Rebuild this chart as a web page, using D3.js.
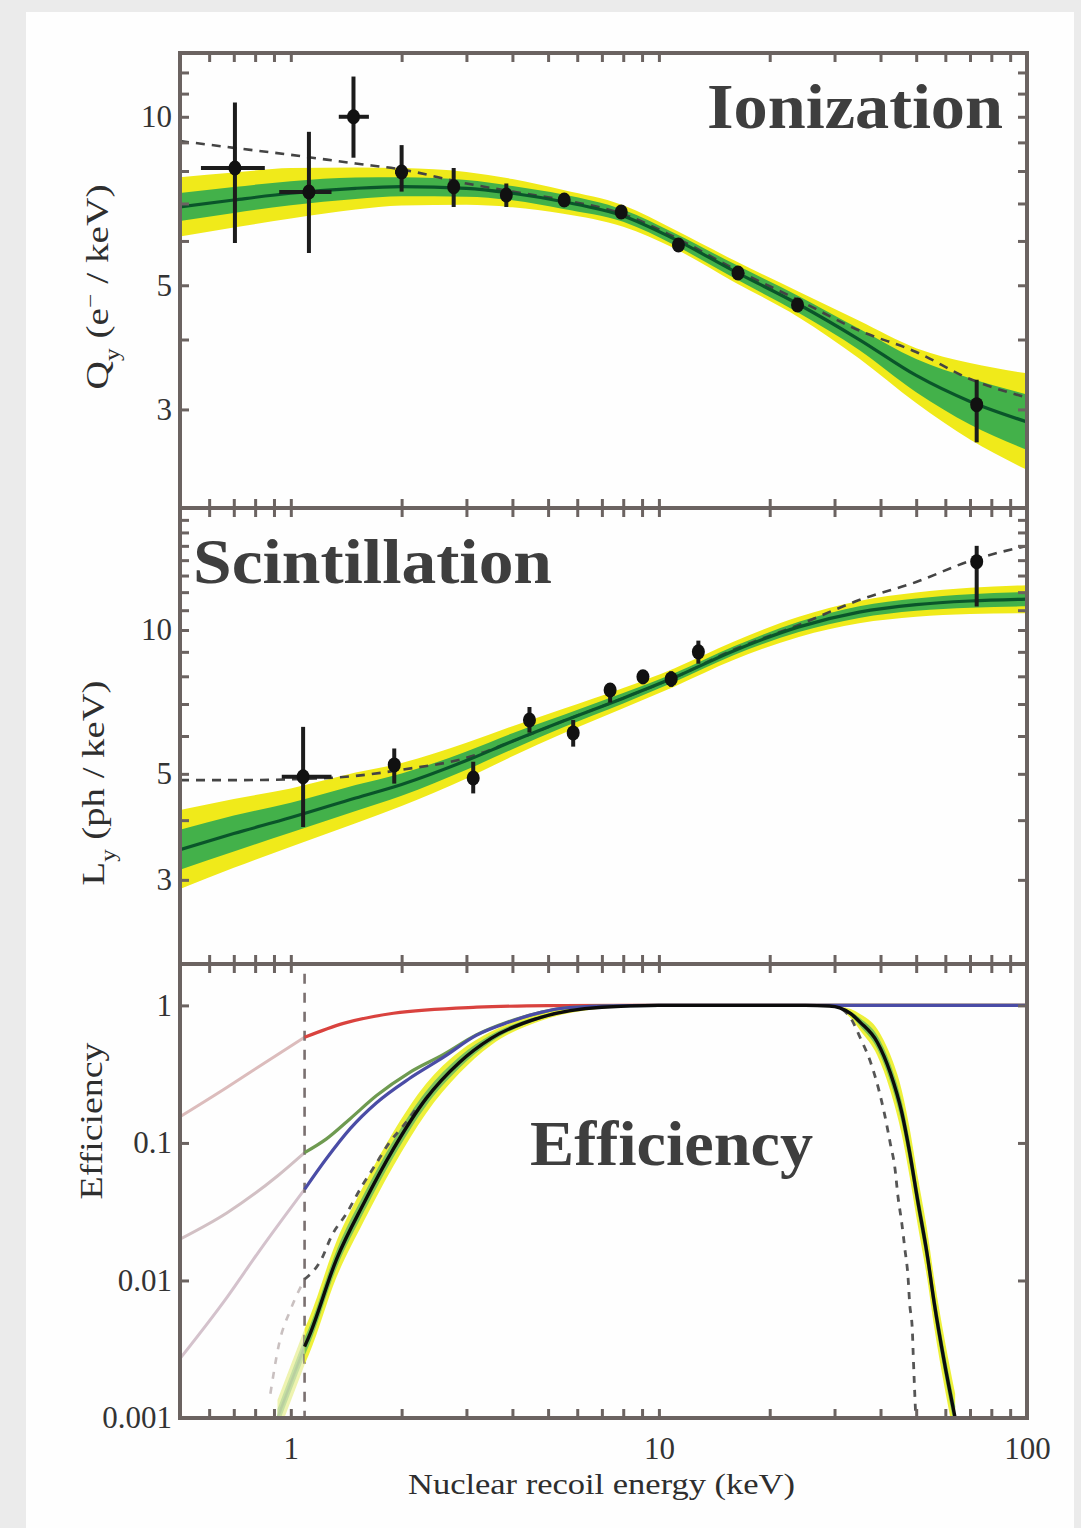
<!DOCTYPE html>
<html>
<head>
<meta charset="utf-8">
<script src="https://cdn.jsdelivr.net/npm/d3@7"></script>
<style>
  html, body { margin: 0; padding: 0; background: #ffffff; }
  svg { display: block; }
  text { font-family: "Liberation Serif", "Times New Roman", serif; }
</style>
</head>
<body>
<svg id="chart" width="1081" height="1528"></svg>
<script>
// ---------- data ----------
// Energy grid for fitted curves (keV)
const fitE = [0.5, 0.7, 1, 1.5, 2, 3, 4, 5.5, 8, 11, 16, 24, 35, 50, 70, 100];

// Ionization yield Qy (e- / keV)
const qyFit   = [6.9, 7.1, 7.3, 7.45, 7.5, 7.45, 7.3, 7.05, 6.65, 6.05, 5.3, 4.62, 4.0, 3.45, 3.1, 2.85];
const qyHi1   = [7.31, 7.49, 7.67, 7.79, 7.80, 7.71, 7.52, 7.26, 6.82, 6.20, 5.46, 4.78, 4.18, 3.69, 3.41, 3.19];
const qyLo1   = [6.51, 6.73, 6.95, 7.13, 7.21, 7.20, 7.09, 6.84, 6.49, 5.90, 5.15, 4.46, 3.83, 3.22, 2.82, 2.54];
const qyHi2   = [7.80, 7.95, 8.10, 8.12, 8.10, 7.97, 7.74, 7.40, 6.95, 6.29, 5.54, 4.87, 4.32, 3.86, 3.63, 3.48];
const qyLo2   = [6.11, 6.34, 6.58, 6.83, 6.94, 6.96, 6.89, 6.71, 6.36, 5.82, 5.07, 4.38, 3.70, 3.08, 2.65, 2.34];
const qyDash  = [9.05, 8.8, 8.55, 8.25, 8.05, 7.6, 7.35, 7.1, 6.7, 6.1, 5.35, 4.7, 4.15, 3.8, 3.4, 3.15];

// Qy measurements: energy, value, x-range, y-range
const qyE    = [0.705, 1.12, 1.48, 2.0, 2.77, 3.85, 5.53, 7.9, 11.3, 16.4, 23.8, 73];
const qyVal  = [8.1, 7.34, 10.0, 7.97, 7.5, 7.25, 7.1, 6.76, 5.9, 5.26, 4.61, 3.06];
const qyELo  = [0.57, 0.93, 1.35, 1.92, 2.70, 3.75, 5.45, 7.80, 11.15, 16.2, 23.5, 72];
const qyEHi  = [0.85, 1.29, 1.63, 2.08, 2.85, 3.95, 5.62, 8.0, 11.45, 16.6, 24.1, 74];
const qyVLo  = [5.95, 5.71, 8.45, 7.35, 6.9, 6.9, 6.95, 6.6, 5.78, 5.15, 4.5, 2.62];
const qyVHi  = [10.6, 9.4, 11.8, 8.9, 8.1, 7.6, 7.25, 6.92, 6.02, 5.37, 4.72, 3.39];

// Scintillation yield Ly (ph / keV)
const lyFit   = [3.47, 3.75, 4.05, 4.45, 4.75, 5.33, 5.85, 6.45, 7.2, 7.95, 9.05, 10.15, 10.9, 11.3, 11.5, 11.6];
const lyHi1   = [3.82, 4.09, 4.35, 4.74, 5.01, 5.57, 6.08, 6.64, 7.38, 8.12, 9.25, 10.40, 11.21, 11.64, 11.88, 12.01];
const lyLo1   = [3.15, 3.44, 3.77, 4.18, 4.50, 5.10, 5.63, 6.26, 7.02, 7.78, 8.86, 9.90, 10.60, 10.97, 11.13, 11.21];
const lyHi2   = [4.20, 4.43, 4.66, 5.03, 5.27, 5.81, 6.29, 6.84, 7.56, 8.31, 9.46, 10.66, 11.50, 11.98, 12.25, 12.41];
const lyLo2   = [2.87, 3.18, 3.52, 3.94, 4.28, 4.89, 5.44, 6.08, 6.86, 7.61, 8.66, 9.67, 10.33, 10.66, 10.80, 10.84];
const lyDash  = [4.85, 4.85, 4.87, 4.95, 5.1, 5.4, 5.85, 6.45, 7.2, 7.95, 9.1, 10.25, 11.55, 12.6, 13.95, 15.0];

const lyE    = [1.08, 1.91, 3.13, 4.45, 5.85, 7.37, 9.05, 10.8, 12.8, 73];
const lyVal  = [4.93, 5.22, 4.9, 6.48, 6.09, 7.49, 7.98, 7.9, 9.0, 13.9];
const lyELo  = [0.945, 1.85, 3.05, 4.35, 5.75, 7.25, 8.9, 10.6, 12.6, 72];
const lyEHi  = [1.29, 1.97, 3.2, 4.55, 5.95, 7.5, 9.2, 11.0, 13.0, 74];
const lyVLo  = [3.87, 4.77, 4.55, 6.1, 5.7, 7.05, 7.7, 7.6, 8.5, 11.2];
const lyVHi  = [6.27, 5.65, 5.3, 6.9, 6.48, 7.7, 8.2, 8.2, 9.5, 15.0];

// Detection efficiencies
const thresholdE = 1.09;
const effRedE   = [0.5, 0.67, 0.82, 1.09, 1.39, 1.9, 3.2, 5, 8, 100];
const effRed    = [0.155, 0.253, 0.36, 0.586, 0.74, 0.877, 0.97, 0.995, 1, 1];
const effGreenE = [0.5, 0.67, 0.92, 1.09, 1.25, 1.45, 1.71, 2.1, 2.6, 3.19, 3.9, 4.78, 5.4, 7, 10, 100];
const effGreen  = [0.020, 0.031, 0.0575, 0.085, 0.107, 0.150, 0.221, 0.325, 0.44, 0.61, 0.76, 0.89, 0.95, 0.99, 1, 1];
const effBlueE  = [0.5, 0.67, 0.82, 1.09, 1.25, 1.45, 1.71, 2.1, 2.6, 3.19, 3.9, 4.78, 5.4, 7, 10, 100];
const effBlue   = [0.0027, 0.0075, 0.0163, 0.046, 0.077, 0.127, 0.196, 0.294, 0.42, 0.605, 0.753, 0.89, 0.95, 0.99, 1, 1];

// Total efficiency with its 1-sigma / 2-sigma bounds
const effTotalE = [0.92, 1.0, 1.09, 1.12, 1.33, 1.58, 1.9, 2.33, 2.87, 3.5, 4.78, 7, 10, 20, 25, 29, 31, 33.2, 35.3, 39.2, 42.5, 45.7, 48, 50.6, 53.5, 56, 59.7, 63.8];
const effTotal  = [0.001, 0.0018, 0.0033, 0.0039, 0.0142, 0.0366, 0.0906, 0.21, 0.385, 0.576, 0.82, 0.97, 1.0, 1.0, 1.0, 0.99, 0.96, 0.87, 0.75, 0.54, 0.325, 0.166, 0.085, 0.0366, 0.0157, 0.0068, 0.0025, 0.001];
const effHi1    = [0.00116, 0.00209, 0.00383, 0.00452, 0.01647, 0.04246, 0.1042, 0.2373, 0.4235, 0.6106, 0.8446, 0.9797, 1.0, 1.0, 1.0, 0.99, 0.9696, 0.9048, 0.8025, 0.6048, 0.377, 0.1992, 0.1037, 0.04465, 0.01915, 0.0083, 0.00305, 0.00122];
const effLo1    = [0.00086, 0.00155, 0.00284, 0.00336, 0.01224, 0.03155, 0.0788, 0.1858, 0.35, 0.5434, 0.7961, 0.9604, 1.0, 1.0, 1.0, 0.99, 0.9505, 0.8365, 0.7009, 0.4821, 0.2802, 0.1383, 0.0697, 0.03, 0.01287, 0.00557, 0.00205, 0.00082];
const effHi2    = [0.00135, 0.00243, 0.00446, 0.00527, 0.0192, 0.0494, 0.1205, 0.269, 0.462, 0.645, 0.869, 0.989, 1.0, 1.0, 1.0, 0.99, 0.979, 0.94, 0.8625, 0.675, 0.439, 0.241, 0.1275, 0.0549, 0.0236, 0.0102, 0.00375, 0.0015];
const effLo2    = [0.00074, 0.00133, 0.00244, 0.00289, 0.0105, 0.0271, 0.0681, 0.164, 0.321, 0.514, 0.774, 0.951, 1.0, 1.0, 1.0, 0.99, 0.941, 0.806, 0.652, 0.432, 0.241, 0.1145, 0.0567, 0.0244, 0.0105, 0.00453, 0.00167, 0.00067];

const effDashLoE = [0.88, 0.93, 1.0, 1.09, 1.21, 1.29, 1.42, 1.56, 1.69, 1.85, 2.02, 2.2];
const effDashLo  = [0.0015, 0.0035, 0.0062, 0.0102, 0.0142, 0.021, 0.031, 0.0486, 0.068, 0.1, 0.133, 0.18];
const effDashHiE = [29, 31, 33.2, 35.3, 37.6, 39.5, 41.1, 42.5, 43.8, 44.6, 45.7, 46.6, 47.5, 48, 48.8, 49.1, 49.8];
const effDashHi  = [1.0, 0.96, 0.807, 0.575, 0.385, 0.248, 0.158, 0.1, 0.0647, 0.0411, 0.026, 0.0168, 0.0107, 0.0068, 0.0044, 0.0028, 0.0011];

// Ticks and labels
const xTickValues = [0.6, 0.7, 0.8, 0.9, 1, 2, 3, 4, 5, 6, 7, 8, 9, 10, 20, 30, 40, 50, 60, 70, 80, 90];
const xLabelValues = [1, 10, 100];
const qyTicks = [3, 4, 5, 6, 7, 8, 9, 10, 11, 12];
const lyTicks = [3, 4, 5, 6, 7, 8, 9, 10, 11, 12, 13, 14, 15, 16, 17];
const yLabelValues = [3, 5, 10];
const effTicks = [0.001, 0.01, 0.1, 1];
const effTickLabels = ["0.001", "0.01", "0.1", "1"];

// ---------- layout ----------
const W = 1081, H = 1528;
const left = 180, right = 1027;
const panels = { top: [53, 508], mid: [508, 964], bot: [964, 1418] };

const svg = d3.select("#chart");
svg.append("rect").attr("width", W).attr("height", H).attr("fill", "#ebebeb");
svg.append("rect").attr("x", 26).attr("y", 12).attr("width", 1048).attr("height", H - 12).attr("fill", "#fefefe");

const x = d3.scaleLog().domain([0.5, 100]).range([left, right]);
const yTop = d3.scaleLog().domain([2, 13]).range([panels.top[1], panels.top[0]]);
const yMid = d3.scaleLog().domain([2, 18]).range([panels.mid[1], panels.mid[0]]);
const yBot = d3.scaleLog().domain([0.001, 2]).range([panels.bot[1], panels.bot[0]]);

const FRAME = "#6b6361";

function clipFor(id, y0, y1) {
  svg.append("clipPath").attr("id", id)
    .append("rect").attr("x", left).attr("y", y0).attr("width", right - left).attr("height", y1 - y0);
  return svg.append("g").attr("clip-path", `url(#${id})`);
}

function zipRows(E, cols) {
  return E.map((e, i) => { const r = { E: e }; for (const k in cols) r[k] = cols[k][i]; return r; });
}

// yield panel: bands, dashed model, fit line, measurements
function yieldPanel(id, y, bounds, fit, hi1, lo1, hi2, lo2, dash, pts) {
  const g = clipFor(id, bounds[0], bounds[1]);
  const rows = zipRows(fitE, { fit, hi1, lo1, hi2, lo2, dash });
  const area = (a, b) => d3.area().x(d => x(d.E)).y0(d => y(d[a])).y1(d => y(d[b])).curve(d3.curveMonotoneX);
  const line = k => d3.line().x(d => x(d.E)).y(d => y(d[k])).curve(d3.curveMonotoneX);
  g.append("path").datum(rows).attr("d", area("lo2", "hi2")).attr("fill", "#f0ea1a");
  g.append("path").datum(rows).attr("d", area("lo1", "hi1")).attr("fill", "#43b14a");
  g.append("path").datum(rows).attr("d", line("dash")).attr("fill", "none")
    .attr("stroke", "#444").attr("stroke-width", 2.6).attr("stroke-dasharray", "9,7");
  g.append("path").datum(rows).attr("d", line("fit")).attr("fill", "none")
    .attr("stroke", "#0a552a").attr("stroke-width", 3.2);

  const pg = g.append("g");
  pts.E.forEach((e, i) => {
    pg.append("line").attr("x1", x(e)).attr("x2", x(e)).attr("y1", y(pts.vlo[i])).attr("y2", y(pts.vhi[i]))
      .attr("stroke", "#1c1c1c").attr("stroke-width", 4);
    pg.append("line").attr("x1", x(pts.elo[i])).attr("x2", x(pts.ehi[i])).attr("y1", y(pts.v[i])).attr("y2", y(pts.v[i]))
      .attr("stroke", "#1c1c1c").attr("stroke-width", 4);
    pg.append("ellipse").attr("cx", x(e)).attr("cy", y(pts.v[i])).attr("rx", 6.5).attr("ry", 7.5).attr("fill", "#111");
  });
}

yieldPanel("clipTop", yTop, panels.top, qyFit, qyHi1, qyLo1, qyHi2, qyLo2, qyDash,
  { E: qyE, v: qyVal, elo: qyELo, ehi: qyEHi, vlo: qyVLo, vhi: qyVHi });
yieldPanel("clipMid", yMid, panels.mid, lyFit, lyHi1, lyLo1, lyHi2, lyLo2, lyDash,
  { E: lyE, v: lyVal, elo: lyELo, ehi: lyEHi, vlo: lyVLo, vhi: lyVHi });

// ---------- efficiency panel ----------
{
  const g = clipFor("clipBot", panels.bot[0], panels.bot[1]);
  const pairs = (E, V) => E.map((e, i) => ({ E: e, v: V[i] }));
  const ln = d3.line().x(d => x(d.E)).y(d => yBot(d.v)).curve(d3.curveMonotoneX);
  const band = (a, b) => d3.area().x(d => x(d.E)).y0(d => yBot(d[a])).y1(d => yBot(d[b])).curve(d3.curveMonotoneX);
  const below = arr => arr.filter(d => d.E <= thresholdE);
  const above = arr => arr.filter(d => d.E >= thresholdE);

  const red = pairs(effRedE, effRed), green = pairs(effGreenE, effGreen), blue = pairs(effBlueE, effBlue);
  const total = pairs(effTotalE, effTotal);
  const totalBand = zipRows(effTotalE, { hi1: effHi1, lo1: effLo1, hi2: effHi2, lo2: effLo2 });
  const dashLo = pairs(effDashLoE, effDashLo), dashHi = pairs(effDashHiE, effDashHi);

  // sub-threshold extrapolations (faded)
  [[red, "#dcbcbc"], [green, "#d2c0c4"], [blue, "#d4c2cc"]].forEach(([d, c]) => {
    g.append("path").datum(below(d)).attr("d", ln).attr("fill", "none").attr("stroke", c).attr("stroke-width", 3);
  });
  g.append("path").datum(below(totalBand)).attr("d", band("lo2", "hi2")).attr("fill", "#eef3b0");
  g.append("path").datum(below(totalBand)).attr("d", band("lo1", "hi1")).attr("fill", "#c6dfa2");
  g.append("path").datum(below(total)).attr("d", ln).attr("fill", "none")
    .attr("stroke", "#b9cfa0").attr("stroke-width", 2.5);
  g.append("path").datum(below(dashLo)).attr("d", ln).attr("fill", "none")
    .attr("stroke", "#c9c0c0").attr("stroke-width", 2.6).attr("stroke-dasharray", "7,8");

  // threshold marker
  g.append("line").attr("x1", x(thresholdE)).attr("x2", x(thresholdE))
    .attr("y1", yBot(1.7)).attr("y2", yBot(0.001))
    .attr("stroke", "#7a7070").attr("stroke-width", 2.6).attr("stroke-dasharray", "10,9");

  // total efficiency band
  g.append("path").datum(above(totalBand)).attr("d", band("lo2", "hi2")).attr("fill", "#eef03a");
  g.append("path").datum(above(totalBand)).attr("d", band("lo1", "hi1")).attr("fill", "#7cc45a");

  // dashed alternative curves
  [above(dashLo), dashHi].forEach(d => {
    g.append("path").datum(d).attr("d", ln).attr("fill", "none")
      .attr("stroke", "#555").attr("stroke-width", 2.8).attr("stroke-dasharray", "7,7");
  });

  g.append("path").datum(above(red)).attr("d", ln).attr("fill", "none").attr("stroke", "#d9423e").attr("stroke-width", 3.2);
  g.append("path").datum(above(green)).attr("d", ln).attr("fill", "none").attr("stroke", "#6e9a50").attr("stroke-width", 3.2);
  g.append("path").datum(above(blue)).attr("d", ln).attr("fill", "none").attr("stroke", "#4a4ca6").attr("stroke-width", 3.2);
  g.append("path").datum(above(total)).attr("d", ln).attr("fill", "none").attr("stroke", "#0c0c0c").attr("stroke-width", 3.4);
}

// ---------- frames and axes ----------
function styleAxis(sel) {
  sel.select(".domain").remove();
  sel.selectAll(".tick line").attr("stroke", FRAME).attr("stroke-width", 3);
  sel.selectAll(".tick text").attr("fill", "#333").attr("font-size", 31)
    .attr("font-family", "'Liberation Serif', serif");
}

function frameAxes(y, bounds, yTicks, yLabelVals, yFmt) {
  const [y0, y1] = bounds;
  svg.append("g").attr("transform", `translate(0,${y0})`)
    .call(d3.axisTop(x).tickValues(xTickValues).tickSizeInner(-9).tickSizeOuter(0).tickFormat(""))
    .call(styleAxis);
  svg.append("g").attr("transform", `translate(0,${y1})`)
    .call(d3.axisBottom(x).tickValues(xTickValues).tickSizeInner(-9).tickSizeOuter(0).tickFormat(""))
    .call(styleAxis);
  svg.append("g").attr("transform", `translate(${left},0)`)
    .call(d3.axisLeft(y).tickValues(yTicks).tickSizeInner(-9).tickSizeOuter(0).tickPadding(8)
      .tickFormat(yFmt || (d => yLabelVals.includes(d) ? d : "")))
    .call(styleAxis);
  svg.append("g").attr("transform", `translate(${right},0)`)
    .call(d3.axisRight(y).tickValues(yTicks).tickSizeInner(-9).tickSizeOuter(0).tickFormat(""))
    .call(styleAxis);
  svg.append("rect").attr("x", left).attr("y", y0).attr("width", right - left).attr("height", y1 - y0)
    .attr("fill", "none").attr("stroke", FRAME).attr("stroke-width", 4);
}

frameAxes(yTop, panels.top, qyTicks, yLabelValues);
frameAxes(yMid, panels.mid, lyTicks, yLabelValues);
frameAxes(yBot, panels.bot, effTicks, null, d => effTickLabels[effTicks.indexOf(d)]);

// x labels under the efficiency panel
svg.append("g").attr("transform", `translate(0,${panels.bot[1]})`)
  .call(d3.axisBottom(x).tickValues(xLabelValues).tickSize(0).tickPadding(19).tickFormat(d3.format("d")))
  .call(styleAxis);

// ---------- axis titles ----------
function yTitle(cx, cy, len, build) {
  const t = svg.append("text").attr("transform", `translate(${cx},${cy}) rotate(-90)`)
    .attr("text-anchor", "middle").attr("font-size", 31).attr("fill", "#2e2e2e")
    .attr("textLength", len).attr("lengthAdjust", "spacingAndGlyphs");
  build(t);
}
yTitle(108, 287, 205, t => {
  t.append("tspan").text("Q");
  t.append("tspan").attr("baseline-shift", "sub").attr("font-size", 20).text("y");
  t.append("tspan").text(" (e");
  t.append("tspan").attr("baseline-shift", "super").attr("font-size", 20).text("−");
  t.append("tspan").text(" / keV)");
});
yTitle(104, 783, 205, t => {
  t.append("tspan").text("L");
  t.append("tspan").attr("baseline-shift", "sub").attr("font-size", 20).text("y");
  t.append("tspan").text(" (ph / keV)");
});
yTitle(102, 1121, 157, t => t.text("Efficiency"));

svg.append("text").attr("x", (408 + 795) / 2).attr("y", 1494).attr("text-anchor", "middle")
  .attr("font-size", 30).attr("fill", "#2e2e2e")
  .attr("textLength", 387).attr("lengthAdjust", "spacingAndGlyphs")
  .text("Nuclear recoil energy (keV)");

// ---------- panel titles ----------
function panelTitle(txt, x0, base, len) {
  svg.append("text").attr("x", x0).attr("y", base)
    .attr("font-size", 64).attr("font-weight", "bold").attr("fill", "#3e3e3e")
    .attr("textLength", len).attr("lengthAdjust", "spacingAndGlyphs")
    .style("font-family", "'Liberation Serif', 'DejaVu Serif', serif")
    .text(txt);
}
panelTitle("Ionization", 707, 128, 296);
panelTitle("Scintillation", 193, 583, 359);
panelTitle("Efficiency", 530, 1165, 283);
</script>
</body>
</html>
